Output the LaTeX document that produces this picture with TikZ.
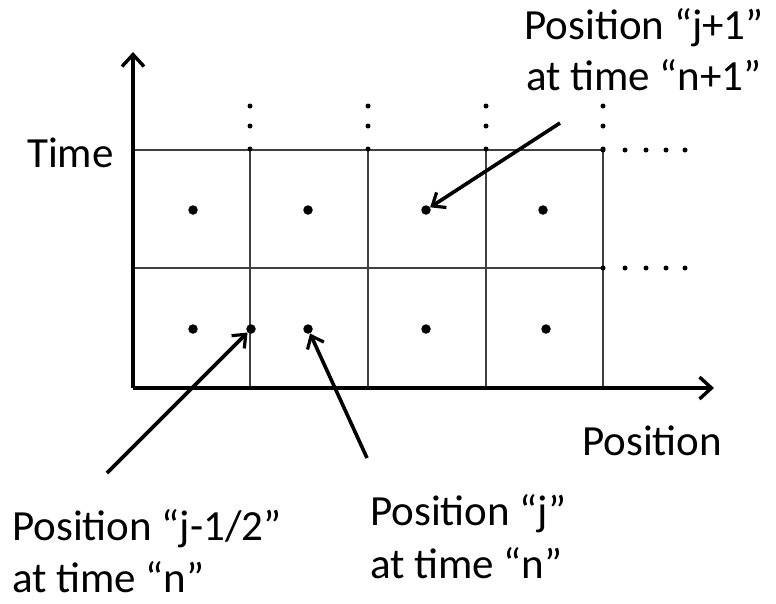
\documentclass[tikz,border=0pt]{standalone}
\usepackage{fontspec}
\setmainfont{Carlito}
\usetikzlibrary{arrows.meta}
\begin{document}
\begin{tikzpicture}[x=1pt,y=-1pt,
  axis/.style={line width=3.8pt,-{Straight Barb[length=12pt,width=22pt,line width=3.4pt]}},
  grid/.style={line width=2pt,black!75},
  pointer/.style={line width=3.6pt,-{Straight Barb[length=11pt,width=18pt,line width=3.2pt]}},
  pt/.style={circle,fill=black,inner sep=0pt,minimum size=9.5pt},
  sdot/.style={circle,fill=black,inner sep=0pt,minimum size=5pt},
  lbl/.style={inner sep=0pt,anchor=base west,font=\fontsize{43}{52}\selectfont},
]
\useasboundingbox (0,0) rectangle (776,603);
% axes
\coordinate (O) at (133,388);
\coordinate (ytip) at (133,52);
\coordinate (xtip) at (714,388);
% grid
\foreach \y in {150,268} \draw[grid] (133,\y) -- (603,\y);
\foreach \x in {250,368,486,603} \draw[grid] (\x,150) -- (\x,388);
\draw[axis] (O) -- (ytip);
\draw[axis] (O) -- (xtip);
% continuation dots
\foreach \x in {250,368,486,603} {
  \node[sdot] at (\x,106) {};
  \node[sdot] at (\x,126) {};
  \node[sdot] at (\x,149) {};
}
\foreach \y in {150,268} {
  \foreach \x in {603,625,646,666,685} \node[sdot] at (\x,\y) {};
}
% grid points
\node[pt] (u1) at (193,210) {};
\node[pt] (u2) at (308,210) {};
\node[pt] (u3) at (426,210) {};
\node[pt] (u4) at (543,210) {};
\node[pt] (l1) at (193,329) {};
\node[pt] (l2) at (251,329) {};
\node[pt] (l3) at (308,329) {};
\node[pt] (l4) at (426,329) {};
\node[pt] (l5) at (546,329) {};
% labels
\node[lbl] (time) at (27,167) {Time};
\node[lbl] (pos) at (582,455) {Position};
\node[inner sep=0pt,align=center,font=\fontsize{43}{51}\selectfont,anchor=north] (top) at (644,8) {Position “j+1”\\at time “n+1”};
\node[lbl] (bl1) at (12,540) {Position “j-1/2”};
\node[lbl] (bl2) at (12,592) {at time “n”};
\node[lbl] (br1) at (370,525) {Position “j”};
\node[lbl] (br2) at (370,578) {at time “n”};
% pointers
\coordinate (s1) at (560,123);
\coordinate (s2) at (107,473);
\coordinate (s3) at (367,458);
\draw[pointer] (s1) -- (u3);
\draw[pointer] (s2) -- (l2);
\draw[pointer] (s3) -- (l3);
\end{tikzpicture}
\end{document}
